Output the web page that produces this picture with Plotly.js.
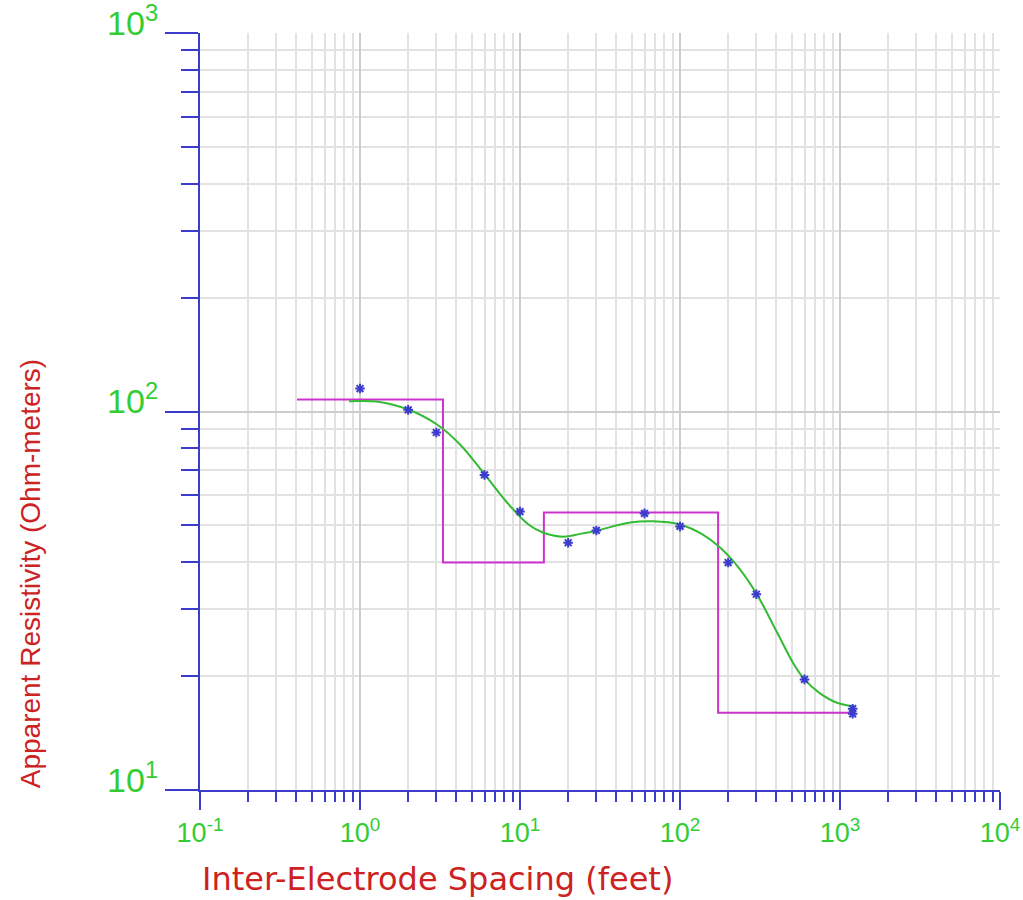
<!DOCTYPE html>
<html>
<head>
<meta charset="utf-8">
<script src="https://cdn.plot.ly/plotly-3.0.1.min.js"></script>
<style>html,body{margin:0;padding:0;background:#fff;}#chart{width:1023px;height:900px;}</style>
</head>
<body>
<div id="chart"></div>
<script>
// Measured apparent resistivity (blue asterisks)
const spacing  = [1, 2, 3, 6, 10, 20, 30, 60, 100, 200, 300, 600, 1200, 1200];
const measured = [115, 101, 88, 68, 54.4, 45, 48.5, 53.8, 49.7, 39.9, 32.9, 19.6, 16.4, 15.9];

// Calculated response curve (green)
const curveX = [0.854, 1.33, 2, 3.03, 4.22, 5.95, 8.29, 11.3, 13.9, 18.6, 23.7, 30.4, 48.7, 67.8, 100, 139, 178, 237, 302, 404, 508, 600, 750, 957, 1241];
const curveY = [106.5, 106.0, 101.2, 92.4, 81.8, 68.6, 57.5, 50.3, 47.9, 46.7, 47.5, 48.5, 50.9, 51.3, 50.3, 47.3, 43.7, 38.3, 32.9, 26.1, 21.7, 19.6, 18.0, 17.0, 16.6];

// Layered model (magenta step line)
const modelStart = 0.404;
const modelEnd = 1224;
const layerBoundaries = [3.30, 14.1, 173];
const layerRho = [107.6, 39.9, 54.1, 16.0];

// Tick labels
const xTickVals = [0.1, 1, 10, 100, 1000, 10000];
const xTickText = ['10<sup>-1</sup>', '10<sup>0</sup>', '10<sup>1</sup>', '10<sup>2</sup>', '10<sup>3</sup>', '10<sup>4</sup>'];
const yTickVals = [10, 100, 1000];
const yTickText = ['10<sup>1</sup>', '10<sup>2</sup>', '10<sup>3</sup>'];

function minorVals(lo, hi) {
  const out = [];
  for (let e = lo; e < hi; e++) {
    for (let k = 2; k <= 9; k++) out.push(k * Math.pow(10, e));
  }
  return out;
}

const stepX = [modelStart];
const stepY = [layerRho[0]];
for (let i = 0; i < layerBoundaries.length; i++) {
  stepX.push(layerBoundaries[i], layerBoundaries[i]);
  stepY.push(layerRho[i], layerRho[i + 1]);
}
stepX.push(modelEnd);
stepY.push(layerRho[layerRho.length - 1]);

const BLUE = '#3b3bcc';
const GREEN = '#33cc33';
const RED = '#cc2222';
const FONT = 'Liberation Sans, Arial, sans-serif';

const traces = [
  {x: stepX, y: stepY, type: 'scatter', mode: 'lines', line: {color: '#cc33cc', width: 2}, hoverinfo: 'skip'},
  {x: curveX, y: curveY, type: 'scatter', mode: 'lines', line: {color: '#33bb33', width: 2, shape: 'spline', smoothing: 1}, hoverinfo: 'skip'},
  {x: spacing, y: measured, type: 'scatter', mode: 'markers',
   marker: {symbol: 'asterisk-open', size: 8, color: BLUE, line: {color: BLUE, width: 2}}}
];

const axisCommon = {
  type: 'log', showline: true, linecolor: BLUE, linewidth: 2,
  ticks: 'outside', tickcolor: BLUE, tickwidth: 2,
  showgrid: true, gridcolor: '#cdcdcd', gridwidth: 2, zeroline: false,
  tickmode: 'array', fixedrange: true, automargin: false
};

const layout = {
  width: 1023, height: 900,
  margin: {l: 200, r: 23, t: 33, b: 110},
  paper_bgcolor: '#ffffff', plot_bgcolor: '#ffffff',
  showlegend: false,
  xaxis: Object.assign({}, axisCommon, {
    range: [-1, 4], tickvals: xTickVals, ticktext: xTickText, ticklen: 18,
    tickfont: {family: FONT, size: 27, color: GREEN},
    minor: {tickmode: 'array', tickvals: minorVals(-1, 4), ticks: 'outside', ticklen: 10,
            tickcolor: BLUE, tickwidth: 2, showgrid: true, gridcolor: '#e2e2e2', gridwidth: 2}
  }),
  yaxis: Object.assign({}, axisCommon, {
    range: [1, 3], tickvals: yTickVals, ticktext: yTickText, ticklen: 33,
    ticklabelshift: -10, ticklabeloverflow: 'allow',
    tickfont: {family: FONT, size: 34, color: GREEN},
    minor: {tickmode: 'array', tickvals: minorVals(1, 3), ticks: 'outside', ticklen: 17,
            tickcolor: BLUE, tickwidth: 2, showgrid: true, gridcolor: '#e2e2e2', gridwidth: 2}
  }),
  annotations: [
    {text: 'Inter-Electrode Spacing (feet)', xref: 'paper', yref: 'paper', x: 0, y: -0.118,
     xanchor: 'left', yanchor: 'middle', showarrow: false,
     font: {family: 'DejaVu Sans, Liberation Sans, sans-serif', size: 32, color: RED}},
    {text: 'Apparent Resistivity (Ohm-meters)', xref: 'paper', yref: 'paper', x: -0.2125, y: 0.285,
     xanchor: 'center', yanchor: 'middle', textangle: -90, showarrow: false,
     font: {family: FONT, size: 28, color: RED}}
  ]
};

Plotly.newPlot('chart', traces, layout, {displayModeBar: false, staticPlot: true});
</script>
</body>
</html>
